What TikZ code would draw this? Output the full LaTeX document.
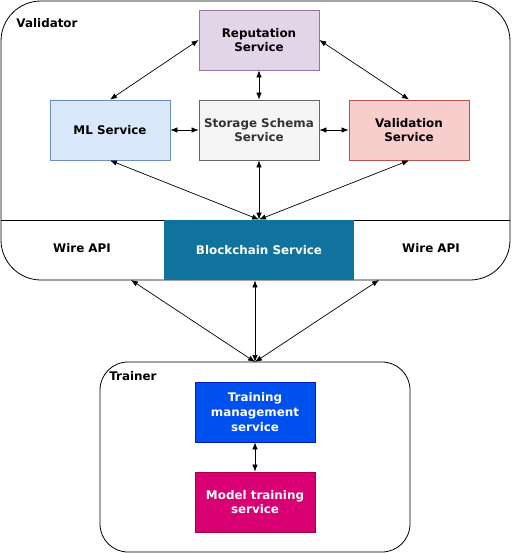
\documentclass[tikz,border=0pt]{standalone}
\usepackage{fontspec}
\setmainfont{DejaVu Sans}
\usetikzlibrary{arrows.meta}
\definecolor{repF}{HTML}{E1D5E7}\definecolor{repD}{HTML}{9673A6}
\definecolor{mlF}{HTML}{DAE8FC}\definecolor{mlD}{HTML}{6C8EBF}
\definecolor{stF}{HTML}{F5F5F5}\definecolor{stD}{HTML}{666666}\definecolor{stT}{HTML}{333333}
\definecolor{vaF}{HTML}{F8CECC}\definecolor{vaD}{HTML}{B85450}
\definecolor{bcF}{HTML}{10739E}
\definecolor{tmF}{HTML}{0050EF}\definecolor{tmD}{HTML}{001DBC}
\definecolor{mtF}{HTML}{D80073}\definecolor{mtD}{HTML}{A50040}
\begin{document}
\begin{tikzpicture}[x=1pt,y=-1pt,
  svc/.style={draw, line width=0.8pt, minimum width=120pt, minimum height=60pt, inner sep=0pt, align=center, font=\fontsize{11.9}{14.8}\selectfont\bfseries},
  lbl/.style={font=\fontsize{11.9}{14.8}\selectfont\bfseries, inner sep=1pt},
  conn/.style={line width=0.7pt, {Latex[length=7pt,width=5.5pt]}-{Latex[length=7pt,width=5.5pt]}},
  cont/.style={draw, line width=0.8pt}]
\useasboundingbox (0,0) rectangle (512,553);
% containers
\draw[cont, rounded corners=40pt] (1,1) rectangle (510,280);
\draw[cont] (1,220) -- (510,220);
\draw[cont, rounded corners=28pt] (100,362) rectangle (410,552);
% nodes
\node[svc, fill=repF, draw=repD] (rep) at (259,40) {Reputation\\Service};
\node[svc, fill=mlF, draw=mlD] (ml) at (110,130) {ML Service};
\node[svc, fill=stF, draw=stD, text=stT] (st) at (259,130) {Storage Schema\\Service};
\node[svc, fill=vaF, draw=vaD] (va) at (409,130) {Validation\\Service};
\node[svc, fill=bcF, draw=none, minimum width=190pt, text=white] (bc) at (259,250) {Blockchain Service};
\node[lbl] (wl) at (82,248) {Wire API};
\node[lbl] (wr) at (431,248) {Wire API};
\node[lbl] (vl) at (47,23) {Validator};
\node[lbl] (tl) at (133,376) {Trainer};
\node[svc, fill=tmF, draw=tmD, text=white] (tm) at (255,412) {Training\\management\\service};
\node[svc, fill=mtF, draw=mtD, text=white] (mt) at (255,502) {Model training\\service};
\coordinate (tt) at (255,362);
% connectors
\draw[conn] (rep.west) -- (ml.north);
\draw[conn] (rep.east) -- (va.north);
\draw[conn] (rep.south) -- (st.north);
\draw[conn] (ml.east) -- (st.west);
\draw[conn] (st.east) -- (va.west);
\draw[conn] (ml.south) -- (bc.north);
\draw[conn] (st.south) -- (bc.north);
\draw[conn] (va.south) -- (bc.north);
\draw[conn] (131,280) -- (tt);
\draw[conn] (bc.south -| tt) -- (tt);
\draw[conn] (379,280) -- (tt);
\draw[conn] (tm.south) -- (mt.north);
\end{tikzpicture}
\end{document}
